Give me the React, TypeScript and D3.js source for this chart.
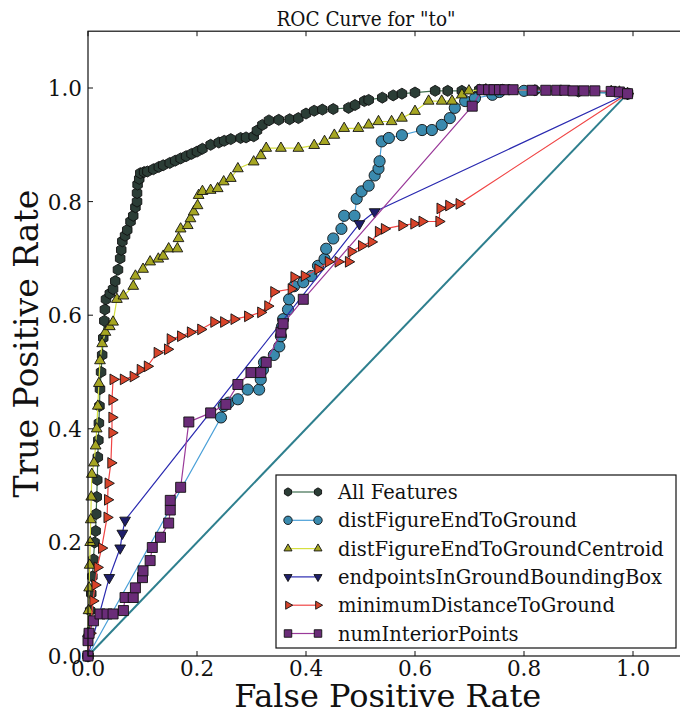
import React from "react";
import * as d3 from "d3";

// ---------- DATA (FPR, TPR) ----------
const allFeatures: [number, number][] = [
  [0, 0], [0.002, 0.04], [0.004, 0.08], [0.006, 0.11], [0.008, 0.14], [0.01, 0.17], [0.012, 0.2],
  [0.014, 0.22], [0.015, 0.25], [0.016, 0.28], [0.017, 0.31], [0.018, 0.35], [0.019, 0.38],
  [0.02, 0.41], [0.021, 0.44], [0.022, 0.47], [0.024, 0.5], [0.026, 0.53], [0.028, 0.56],
  [0.03, 0.59], [0.031, 0.61], [0.033, 0.628], [0.04, 0.638], [0.046, 0.646], [0.05, 0.66],
  [0.055, 0.68], [0.059, 0.7], [0.061, 0.715], [0.063, 0.73], [0.068, 0.74], [0.072, 0.75],
  [0.078, 0.765], [0.083, 0.775], [0.087, 0.79], [0.09, 0.8], [0.09, 0.815], [0.091, 0.83],
  [0.094, 0.84], [0.096, 0.85], [0.103, 0.852], [0.109, 0.853], [0.12, 0.857], [0.13, 0.861],
  [0.138, 0.864], [0.15, 0.868], [0.16, 0.872], [0.17, 0.876], [0.18, 0.88], [0.19, 0.884],
  [0.2, 0.888], [0.21, 0.893], [0.225, 0.9], [0.24, 0.904], [0.25, 0.907], [0.262, 0.91],
  [0.28, 0.912], [0.29, 0.913], [0.304, 0.915], [0.31, 0.925], [0.32, 0.935], [0.332, 0.943],
  [0.35, 0.944], [0.37, 0.945], [0.386, 0.947], [0.4, 0.955], [0.415, 0.96], [0.43, 0.962],
  [0.45, 0.963], [0.478, 0.965], [0.49, 0.97], [0.507, 0.977], [0.515, 0.979], [0.54, 0.983],
  [0.56, 0.987], [0.576, 0.99], [0.6, 0.992], [0.637, 0.995], [0.66, 0.995], [0.686, 0.995],
  [0.718, 0.997], [0.76, 0.997], [0.82, 0.996], [0.9, 0.994], [0.99, 0.99],
];

const distFigureEndToGround: [number, number][] = [
  [0, 0], [0.244, 0.42], [0.249, 0.44], [0.258, 0.446], [0.275, 0.452], [0.293, 0.469],
  [0.314, 0.469], [0.317, 0.487], [0.321, 0.504], [0.323, 0.517], [0.341, 0.53], [0.351, 0.545],
  [0.354, 0.563], [0.356, 0.58], [0.358, 0.593], [0.367, 0.61], [0.369, 0.628], [0.378, 0.651],
  [0.395, 0.658], [0.41, 0.669], [0.422, 0.687], [0.434, 0.699], [0.437, 0.717], [0.45, 0.735],
  [0.465, 0.752], [0.47, 0.775], [0.489, 0.775], [0.493, 0.805], [0.502, 0.818], [0.515, 0.828],
  [0.526, 0.846], [0.533, 0.858], [0.535, 0.871], [0.539, 0.906], [0.552, 0.912], [0.576, 0.917],
  [0.613, 0.926], [0.631, 0.926], [0.649, 0.935], [0.664, 0.947], [0.673, 0.965], [0.692, 0.977],
  [0.71, 0.982], [0.742, 0.988], [0.755, 0.993], [0.8, 0.995], [0.99, 0.99],
];

const distFigureEndToGroundCentroid: [number, number][] = [
  [0, 0], [0, 0.04], [0.001, 0.08], [0.002, 0.12], [0.003, 0.16], [0.004, 0.2], [0.005, 0.24],
  [0.006, 0.28], [0.007, 0.32], [0.011, 0.34], [0.014, 0.37], [0.016, 0.4], [0.018, 0.44],
  [0.02, 0.48], [0.022, 0.52], [0.026, 0.55], [0.032, 0.57], [0.04, 0.58], [0.046, 0.588],
  [0.053, 0.628], [0.065, 0.634], [0.083, 0.651], [0.087, 0.669], [0.101, 0.681], [0.114, 0.694],
  [0.129, 0.699], [0.138, 0.704], [0.148, 0.717], [0.164, 0.717], [0.166, 0.735], [0.17, 0.752],
  [0.183, 0.758], [0.188, 0.77], [0.194, 0.782], [0.201, 0.793], [0.203, 0.811], [0.21, 0.818],
  [0.225, 0.82], [0.238, 0.823], [0.249, 0.835], [0.262, 0.841], [0.275, 0.858], [0.304, 0.87],
  [0.317, 0.881], [0.327, 0.894], [0.354, 0.894], [0.386, 0.894], [0.415, 0.899], [0.434, 0.906],
  [0.452, 0.917], [0.47, 0.929], [0.496, 0.929], [0.515, 0.935], [0.533, 0.941], [0.557, 0.941],
  [0.576, 0.947], [0.6, 0.959], [0.625, 0.977], [0.649, 0.977], [0.668, 0.977], [0.686, 0.988],
  [0.699, 0.995], [0.73, 0.997], [0.96, 0.994], [0.975, 0.993], [0.99, 0.99],
];

const endpointsInGroundBoundingBox: [number, number][] = [
  [0, 0], [0.039, 0.138], [0.059, 0.19], [0.063, 0.216], [0.068, 0.239], [0.498, 0.761],
  [0.526, 0.782], [0.99, 0.99],
];

const minimumDistanceToGround: [number, number][] = [
  [0, 0], [0.004, 0.04], [0.009, 0.097], [0.013, 0.125], [0.017, 0.156], [0.025, 0.19],
  [0.035, 0.244], [0.036, 0.275], [0.037, 0.304], [0.042, 0.34], [0.044, 0.393], [0.044, 0.42],
  [0.044, 0.451], [0.046, 0.487], [0.065, 0.487], [0.083, 0.492], [0.096, 0.504], [0.109, 0.51],
  [0.127, 0.534], [0.146, 0.54], [0.151, 0.558], [0.17, 0.563], [0.188, 0.57], [0.207, 0.575],
  [0.231, 0.588], [0.249, 0.588], [0.268, 0.593], [0.293, 0.598], [0.317, 0.605], [0.33, 0.616],
  [0.341, 0.641], [0.373, 0.646], [0.378, 0.667], [0.397, 0.669], [0.422, 0.681], [0.441, 0.694],
  [0.459, 0.694], [0.478, 0.694], [0.483, 0.712], [0.502, 0.722], [0.52, 0.729], [0.533, 0.747],
  [0.544, 0.752], [0.576, 0.758], [0.598, 0.761], [0.613, 0.765], [0.644, 0.765], [0.646, 0.788],
  [0.662, 0.793], [0.681, 0.796], [0.99, 0.99],
];

const numInteriorPoints: [number, number][] = [
  [0, 0], [0, 0.027], [0.002, 0.04], [0.01, 0.062], [0.022, 0.074], [0.035, 0.074],
  [0.046, 0.074], [0.065, 0.08], [0.068, 0.103], [0.083, 0.103], [0.087, 0.12], [0.1, 0.138],
  [0.101, 0.15], [0.114, 0.168], [0.118, 0.191], [0.133, 0.209], [0.148, 0.234], [0.151, 0.257],
  [0.151, 0.274], [0.17, 0.297], [0.185, 0.412], [0.225, 0.428], [0.253, 0.443], [0.275, 0.478],
  [0.299, 0.499], [0.317, 0.499], [0.327, 0.517], [0.354, 0.57], [0.358, 0.585], [0.395, 0.628],
  [0.705, 0.968], [0.723, 0.997], [0.735, 0.997], [0.745, 0.997], [0.755, 0.997], [0.765, 0.997],
  [0.78, 0.997], [0.815, 0.996], [0.84, 0.996], [0.86, 0.996], [0.875, 0.996], [0.89, 0.995],
  [0.91, 0.995], [0.93, 0.995], [0.96, 0.994], [0.975, 0.993], [0.99, 0.99],
];

const diagonal: [number, number][] = [[0, 0], [0.99, 0.99]];

const xTicks = [0, 0.2, 0.4, 0.6, 0.8, 1.0];
const yTicks = [0, 0.2, 0.4, 0.6, 0.8, 1.0];

const seriesNames = [
  "All Features",
  "distFigureEndToGround",
  "distFigureEndToGroundCentroid",
  "endpointsInGroundBoundingBox",
  "minimumDistanceToGround",
  "numInteriorPoints",
];

type Shape = "hex" | "circle" | "triUp" | "triDown" | "triRight" | "square";

const seriesStyle: { line: string; fill: string; shape: Shape; size: number }[] = [
  { line: "#3f6e50", fill: "#2b3d36", shape: "hex", size: 5.5 },
  { line: "#4aa0d8", fill: "#3a8aae", shape: "circle", size: 5.6 },
  { line: "#d6e040", fill: "#a6a622", shape: "triUp", size: 6.2 },
  { line: "#2a2ab0", fill: "#1e1e6a", shape: "triDown", size: 6.2 },
  { line: "#f04545", fill: "#d8442a", shape: "triRight", size: 6.2 },
  { line: "#9a3a9a", fill: "#6a2c78", shape: "square", size: 5.0 },
];

const seriesData = [
  allFeatures,
  distFigureEndToGround,
  distFigureEndToGroundCentroid,
  endpointsInGroundBoundingBox,
  minimumDistanceToGround,
  numInteriorPoints,
];

function markerPath(shape: Shape, r: number): string {
  const poly = (n: number, rot: number) => {
    const pts: string[] = [];
    for (let i = 0; i < n; i++) {
      const a = rot + (i * 2 * Math.PI) / n;
      pts.push(`${(r * Math.cos(a)).toFixed(2)},${(r * Math.sin(a)).toFixed(2)}`);
    }
    return "M" + pts.join("L") + "Z";
  };
  switch (shape) {
    case "hex":
      return poly(6, -Math.PI / 2);
    case "circle":
      return `M${r},0A${r},${r} 0 1,1 ${-r},0A${r},${r} 0 1,1 ${r},0Z`;
    case "triUp":
      return poly(3, -Math.PI / 2);
    case "triDown":
      return poly(3, Math.PI / 2);
    case "triRight":
      return poly(3, 0);
    case "square":
      return `M${-r},${-r}H${r}V${r}H${-r}Z`;
  }
}

export default function App() {
  const W = 680;
  const H = 714;
  const x = d3.scaleLinear().domain([0, 1.1]).range([88, 88 + 545 * 1.1]);
  const y = d3.scaleLinear().domain([0, 1.1]).range([656, 656 - 568 * 1.1]);
  const line = d3
    .line<[number, number]>()
    .x((d) => x(d[0]))
    .y((d) => y(d[1]));

  const serif = "'DejaVu Serif', serif";
  const legX = 276;
  const legY = 475;
  const legW = 400;
  const legH = 173;
  const rowH = 28.3;

  return (
    <svg
      width={W}
      height={H}
      style={{ position: "absolute", left: 0, top: 0, background: "#fff" }}
    >
      <rect x={0} y={0} width={W} height={H} fill="#fff" />
      <defs>
        <clipPath id="plotClip">
          <rect x={x(0) - 8} y={y(1.1)} width={x(1.1) - x(0) + 8} height={y(0) - y(1.1) + 8} />
        </clipPath>
      </defs>

      {/* title */}
      <text
        x={366}
        y={26}
        textAnchor="middle"
        fontFamily="'DejaVu Serif Condensed', 'DejaVu Serif', serif"
        fontStretch="condensed"
        fontSize={20.5}
        fill="#111"
      >
        ROC Curve for "to"
      </text>

      <g clipPath="url(#plotClip)">
        {/* diagonal */}
        <path d={line(diagonal) || ""} fill="none" stroke="#2e7f8e" strokeWidth={2} />
        {seriesData.map((data, i) => (
          <g key={seriesNames[i]}>
            <path d={line(data) || ""} fill="none" stroke={seriesStyle[i].line} strokeWidth={1.2} />
            {data.map((d, j) => (
              <path
                key={j}
                transform={`translate(${x(d[0])},${y(d[1])})`}
                d={markerPath(seriesStyle[i].shape, seriesStyle[i].size)}
                fill={seriesStyle[i].fill}
                stroke="#111"
                strokeWidth={0.9}
              />
            ))}
          </g>
        ))}
      </g>

      {/* frame */}
      <rect
        x={x(0)}
        y={y(1.1)}
        width={x(1.1) - x(0)}
        height={y(0) - y(1.1)}
        fill="none"
        stroke="#111"
        strokeWidth={1.2}
      />

      {/* ticks */}
      {xTicks.map((t) => (
        <g key={"xt" + t}>
          <line x1={x(t)} x2={x(t)} y1={y(0)} y2={y(0) - 5} stroke="#111" strokeWidth={1} />
          <line x1={x(t)} x2={x(t)} y1={y(1.1)} y2={y(1.1) + 5} stroke="#111" strokeWidth={1} />
          <text
            x={x(t)}
            y={676}
            textAnchor="middle"
            fontFamily={serif}
            fontSize={21.5}
            fill="#111"
          >
            {t.toFixed(1)}
          </text>
        </g>
      ))}
      {yTicks.map((t) => (
        <g key={"yt" + t}>
          <line x1={x(0)} x2={x(0) + 5} y1={y(t)} y2={y(t)} stroke="#111" strokeWidth={1} />
          <text
            x={x(0) - 6}
            y={y(t) + 8}
            textAnchor="end"
            fontFamily={serif}
            fontSize={21.5}
            fill="#111"
          >
            {t.toFixed(1)}
          </text>
        </g>
      ))}

      {/* axis labels */}
      <text
        x={(x(0) + x(1.1)) / 2}
        y={707}
        textAnchor="middle"
        fontFamily={serif}
        fontSize={32}
        fill="#111"
      >
        False Positive Rate
      </text>
      <text
        transform={`translate(${38},${(y(0) + y(1.1)) / 2}) rotate(-90)`}
        textAnchor="middle"
        fontFamily={serif}
        fontSize={33}
        fill="#111"
      >
        True Positive Rate
      </text>

      {/* legend */}
      <rect x={legX} y={legY} width={legW} height={legH} fill="#fff" stroke="#111" strokeWidth={1.2} />
      {seriesNames.map((name, i) => {
        const cy = legY + 17 + i * rowH;
        const st = seriesStyle[i];
        return (
          <g key={"leg" + i}>
            <line x1={legX + 12} x2={legX + 42} y1={cy} y2={cy} stroke={st.line} strokeWidth={1.2} />
            {[legX + 12, legX + 42].map((mx, k) => (
              <path
                key={k}
                transform={`translate(${mx},${cy})`}
                d={markerPath(st.shape, st.size * 0.75)}
                fill={st.fill}
                stroke="#111"
                strokeWidth={0.9}
              />
            ))}
            <text
              x={legX + 62}
              y={cy + 7}
              fontFamily={serif}
              fontSize={19.5}
              fill="#111"
            >
              {name}
            </text>
          </g>
        );
      })}
    </svg>
  );
}
